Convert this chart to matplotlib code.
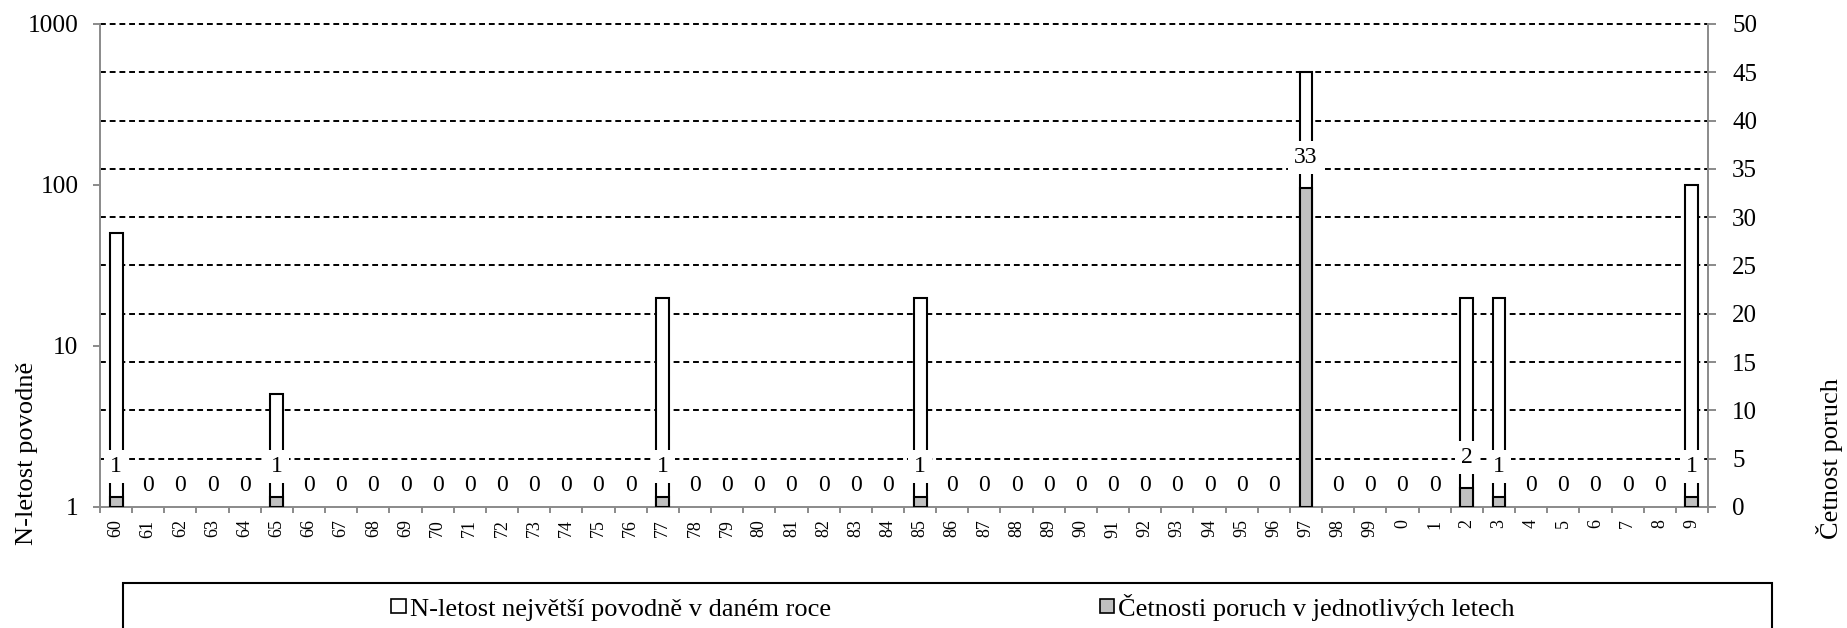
import numpy as np
import matplotlib
matplotlib.use('Agg')
import matplotlib.pyplot as plt
from matplotlib.patches import Patch, Rectangle
from matplotlib.ticker import NullLocator

plt.rcParams['font.family'] = ['Liberation Serif', 'DejaVu Serif']

# ---- data ----
years = [str(y) for y in range(60, 100)] + [str(y) for y in range(0, 10)]
flood_years = ['60', '65', '77', '85', '97', '2', '3', '9']
flood_nletost = [50, 5, 20, 20, 500, 20, 20, 100]
failures = [1, 0, 0, 0, 0, 1, 0, 0, 0, 0, 0, 0, 0, 0, 0, 0, 0, 1, 0, 0,
            0, 0, 0, 0, 0, 1, 0, 0, 0, 0, 0, 0, 0, 0, 0, 0, 0, 33, 0, 0,
            0, 0, 2, 1, 0, 0, 0, 0, 0, 1]
left_ticks = [1, 10, 100, 1000]
left_ticklabels = ['1', '10', '100', '1000']
right_ticks = list(range(0, 55, 5))

label_left = 'N-letost povodně'
label_right = 'Četnost poruch'
legend_labels = ['N-letost největší povodně v daném roce',
                 'Četnosti poruch v jednotlivých letech']

# ---- styles ----
GRAY_AX = '#8a8a8a'
BAR_GRAY = '#c0c0c0'
W = 0.4

fig = plt.figure(figsize=(18.47, 6.28), dpi=100)
ax1 = fig.add_axes([0.05414, 0.19268, 0.87060, 0.76911])

x = np.arange(len(years))
flood_x = [years.index(y) for y in flood_years]

ax1.set_yscale('log')
ax1.set_ylim(1, 1000)
ax1.set_xlim(-0.5, len(years) - 0.5)

# grid lines matching the right axis ticks
for t in right_ticks[1:]:
    ax1.axhline(10 ** (3 * t / right_ticks[-1]), color='black', lw=1.4,
                ls=(0, (3, 2)), zorder=0.5, clip_on=False)

ax1.bar(flood_x, np.array(flood_nletost) - 1, bottom=1, width=W,
        color='white', edgecolor='black', linewidth=1.5, zorder=2)

ax1.set_yticks(left_ticks)
ax1.set_yticklabels(left_ticklabels)
ax1.yaxis.set_minor_locator(NullLocator())
ax1.tick_params(axis='y', which='major', direction='out', length=5,
                width=1.4, color=GRAY_AX, labelsize=18.3, pad=10.5)

ax1.set_xticks(x)
ax1.set_xticklabels(years, rotation=90)
ax1.tick_params(axis='x', which='major', length=0, labelsize=13, pad=9)
ax1.set_xticks(np.arange(-0.5, len(years), 1), minor=True)
ax1.tick_params(axis='x', which='minor', direction='out', length=4.5,
                width=1.4, color=GRAY_AX)

for s in ['top', 'right']:
    ax1.spines[s].set_visible(False)
for s in ['left', 'bottom']:
    ax1.spines[s].set_color(GRAY_AX)
    ax1.spines[s].set_linewidth(1.4)

ax1.set_ylabel(label_left, fontsize=19)
ax1.yaxis.set_label_coords(-0.0386, 0.11)

# ---- right axis ----
ax2 = ax1.twinx()
ax2.set_ylim(0, 50)
ax2.set_yticks(right_ticks)
ax2.tick_params(axis='y', direction='out', length=5.8, width=1.4,
                color=GRAY_AX, labelsize=18, pad=11.5)
for s in ['top', 'left', 'bottom']:
    ax2.spines[s].set_visible(False)
ax2.spines['right'].set_color(GRAY_AX)
ax2.spines['right'].set_linewidth(1.4)

lws = [1.5 if v > 0 else 0 for v in failures]
ax2.bar(x, failures, width=W, color=BAR_GRAY, edgecolor='black',
        linewidth=lws, zorder=2)

for xi, v in zip(x, failures):
    off = 18 if v > 0 else 11.5
    ax2.annotate(str(v), xy=(xi, v), xytext=(0, off), textcoords='offset points',
                 ha='center', va='baseline', fontsize=17,
                 bbox=dict(boxstyle='square,pad=0.25', fc='white', ec='none'),
                 zorder=5)

ax2.set_ylabel(label_right, fontsize=19, rotation=90)
ax2.yaxis.set_label_coords(1.0672, 0.10)

# ---- legend ----
handles = [Patch(facecolor='white', edgecolor='black', linewidth=1.2),
           Patch(facecolor=BAR_GRAY, edgecolor='black', linewidth=1.2)]
fig.legend(handles, legend_labels, loc='center', ncol=2,
           bbox_to_anchor=(953 / 1847, 0.0334), frameon=False, fontsize=19,
           handlelength=0.55, handleheight=0.45, handletextpad=0.15,
           columnspacing=10.2, borderpad=0, borderaxespad=0)
fig.patches.append(Rectangle((123 / 1847, -0.1), (1772 - 123) / 1847, 0.1717,
                             transform=fig.transFigure, fill=False,
                             edgecolor='black', linewidth=1.5, clip_on=False))

fig.savefig('out.png', dpi=100)
